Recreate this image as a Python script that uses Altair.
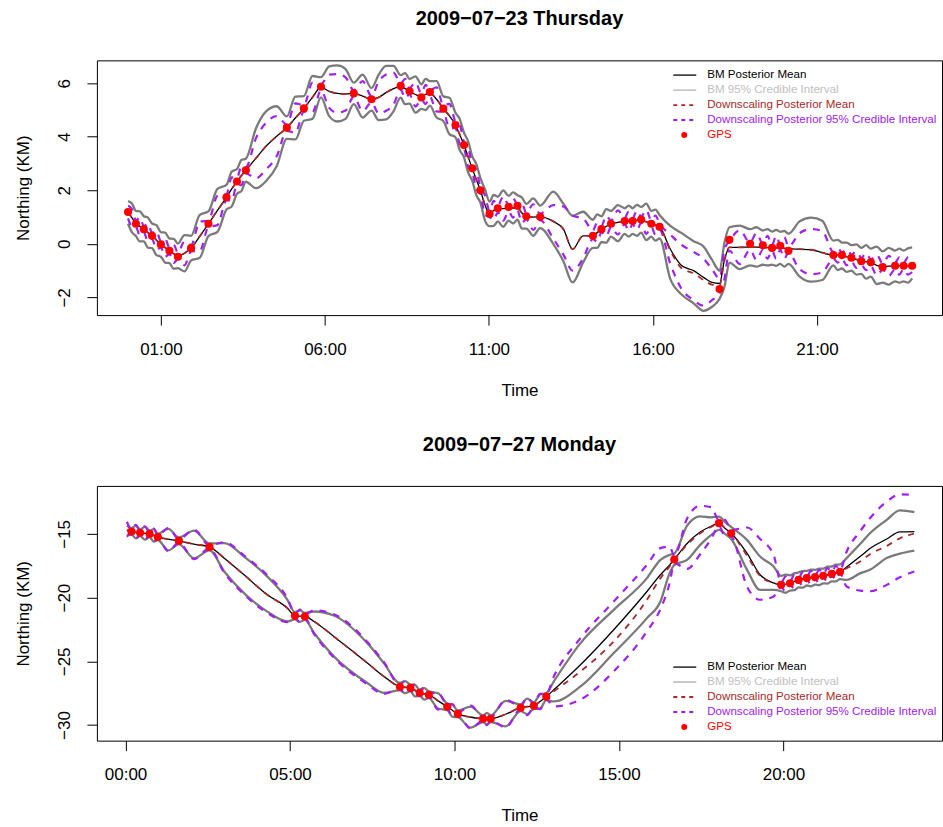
import altair as alt
import pandas as pd

FONT = "Liberation Sans"

# ---------------- Panel 1: 2009-07-23 Thursday ----------------
t1 = [0.00, 0.12, 0.24, 0.36, 0.48, 0.605, 0.73, 0.865, 1.00, 1.13,
      1.26, 1.39, 1.52, 1.72, 1.92, 2.185, 2.45, 2.725, 3.00, 3.16,
      3.32, 3.455, 3.59, 3.90, 4.215, 4.53, 4.84, 5.10, 5.36, 5.62,
      5.88, 6.13, 6.38, 6.63, 6.88, 7.15, 7.42, 7.64, 7.865, 8.09,
      8.31, 8.445, 8.58, 8.76, 8.94, 9.07, 9.20, 9.405, 9.61, 9.795,
      9.98, 10.11, 10.24, 10.365, 10.49, 10.615, 10.74, 10.88, 11.02, 11.145,
      11.27, 11.435, 11.60, 11.735, 11.87, 12.005, 12.14, 12.35, 12.56, 12.96,
      13.27, 13.55, 13.87, 14.17, 14.30, 14.43, 14.575, 14.72, 14.93, 15.14,
      15.26, 15.38, 15.51, 15.64, 15.795, 15.95, 16.075, 16.20, 16.53, 16.88,
      17.24, 17.54, 17.80, 18.03, 18.18, 18.33, 18.645, 18.96, 19.155, 19.35,
      19.49, 19.63, 19.755, 19.88, 20.005, 20.13, 20.47, 20.82, 21.16, 21.50,
      21.63, 21.76, 21.905, 22.05, 22.20, 22.35, 22.495, 22.64, 22.82, 23.00,
      23.19, 23.38, 23.51, 23.64, 23.77, 23.90]
bm_mean1 = [1.19, 0.97, 0.75, 0.65, 0.55, 0.42, 0.30, 0.14, -0.02, -0.14,
            -0.26, -0.37, -0.45, -0.35, -0.16, 0.28, 0.75, 1.25, 1.74, 2.05,
            2.33, 2.55, 2.75, 3.20, 3.66, 4.02, 4.34, 4.70, 5.06, 5.47,
            5.85, 5.70, 5.62, 5.60, 5.62, 5.52, 5.40, 5.47, 5.65, 5.80,
            5.88, 5.80, 5.70, 5.58, 5.50, 5.58, 5.62, 5.40, 5.05, 4.78,
            4.44, 4.08, 3.69, 3.25, 2.82, 2.40, 2.00, 1.45, 1.12, 1.25,
            1.30, 1.32, 1.33, 1.34, 1.36, 1.15, 1.03, 1.00, 1.01, 0.84,
            0.55, -0.20, 0.30, 0.30, 0.42, 0.55, 0.65, 0.75, 0.80, 0.85,
            0.85, 0.85, 0.88, 0.90, 0.82, 0.75, 0.70, 0.64, -0.20, -0.82,
            -1.00, -1.25, -1.44, -1.48, -0.60, -0.13, -0.13, -0.12, -0.12, -0.13,
            -0.14, -0.15, -0.15, -0.15, -0.16, -0.18, -0.20, -0.22, -0.33, -0.42,
            -0.42, -0.45, -0.48, -0.52, -0.58, -0.65, -0.67, -0.70, -0.80, -0.85,
            -0.83, -0.82, -0.82, -0.82, -0.82, -0.82]
bm_lo1 = [0.75, 0.43, 0.29, 0.09, 0.09, -0.14, -0.16, -0.42, -0.48, -0.70,
          -0.72, -0.93, -0.91, -1.03, -0.62, -0.52, 0.29, 0.45, 1.28, 1.40,
          1.87, 1.97, 2.32, 2.08, 2.36, 2.90, 3.92, 3.90, 4.60, 4.67,
          5.47, 4.77, 4.57, 4.67, 5.22, 4.72, 4.98, 4.62, 4.65, 4.95,
          5.46, 5.22, 5.24, 4.90, 5.04, 5.00, 5.16, 4.72, 4.59, 4.10,
          3.98, 3.50, 3.23, 2.67, 2.36, 1.82, 1.54, 0.87, 0.66, 0.67,
          0.84, 0.64, 0.87, 0.76, 0.90, 0.57, 0.57, 0.30, 0.59, 0.00,
          -0.65, -1.44, -0.70, -0.15, -0.15, 0.07, 0.05, 0.27, 0.10, 0.37,
          0.27, 0.37, 0.30, 0.42, 0.14, 0.27, 0.12, 0.20, -1.32, -1.90,
          -2.22, -2.50, -2.35, -2.05, -1.60, -0.70, -0.94, -0.80, -0.85, -0.78,
          -0.80, -0.78, -0.82, -0.75, -0.85, -0.75, -1.22, -1.41, -1.35, -0.80,
          -0.98, -0.92, -1.05, -1.00, -1.15, -1.12, -1.30, -1.22, -1.50, -1.45,
          -1.52, -1.40, -1.45, -1.40, -1.45, -1.29]
bm_hi1 = [1.60, 1.51, 1.23, 1.21, 1.03, 0.98, 0.76, 0.70, 0.44, 0.42,
          0.20, 0.19, 0.01, 0.33, 0.30, 1.08, 1.21, 2.05, 2.20, 2.70,
          2.79, 3.13, 3.18, 4.32, 4.96, 5.14, 4.76, 5.50, 5.52, 6.27,
          6.23, 6.63, 6.67, 6.53, 6.02, 6.32, 5.82, 6.32, 6.65, 6.65,
          6.30, 6.38, 6.16, 6.26, 5.96, 6.16, 6.08, 6.08, 5.51, 5.46,
          4.90, 4.66, 4.15, 3.83, 3.28, 2.98, 2.46, 2.03, 1.58, 1.83,
          1.76, 2.00, 1.79, 1.92, 1.82, 1.73, 1.49, 1.70, 1.43, 1.95,
          1.50, 1.05, 1.20, 0.90, 1.10, 1.03, 1.30, 1.23, 1.45, 1.33,
          1.43, 1.33, 1.46, 1.38, 1.50, 1.23, 1.28, 1.08, 0.67, 0.40,
          0.10, -0.10, -0.60, -1.00, 0.05, 0.62, 0.68, 0.55, 0.62, 0.50,
          0.55, 0.46, 0.52, 0.45, 0.48, 0.38, 0.84, 0.98, 0.86, 0.12,
          0.15, 0.05, 0.05, -0.05, -0.02, -0.15, -0.05, -0.18, -0.10, -0.28,
          -0.15, -0.25, -0.18, -0.25, -0.17, -0.13]
ds_mean1 = [1.19, 0.97, 0.75, 0.65, 0.55, 0.42, 0.30, 0.14, -0.02, -0.14,
            -0.26, -0.37, -0.45, -0.35, -0.16, 0.28, 0.75, 1.25, 1.74, 2.05,
            2.33, 2.55, 2.75, 3.20, 3.66, 4.02, 4.34, 4.70, 5.06, 5.47,
            5.85, 5.70, 5.62, 5.60, 5.62, 5.52, 5.40, 5.47, 5.65, 5.80,
            5.88, 5.80, 5.70, 5.58, 5.50, 5.58, 5.62, 5.40, 5.05, 4.78,
            4.44, 4.08, 3.69, 3.25, 2.82, 2.40, 2.00, 1.45, 1.12, 1.25,
            1.30, 1.32, 1.33, 1.34, 1.36, 1.15, 1.03, 1.00, 1.01, 0.84,
            0.55, -0.20, 0.30, 0.30, 0.42, 0.55, 0.65, 0.75, 0.80, 0.85,
            0.85, 0.85, 0.88, 0.90, 0.82, 0.75, 0.70, 0.64, -0.25, -0.92,
            -1.10, -1.35, -1.52, -1.55, -0.62, -0.13, -0.13, -0.12, -0.12, -0.13,
            -0.14, -0.15, -0.15, -0.15, -0.16, -0.18, -0.20, -0.22, -0.33, -0.42,
            -0.42, -0.45, -0.48, -0.52, -0.58, -0.65, -0.67, -0.70, -0.80, -0.85,
            -0.83, -0.82, -0.82, -0.82, -0.82, -0.82]
ds_lo1 = [0.95, 0.64, 0.63, 0.31, 0.43, 0.08, 0.18, -0.20, -0.14, -0.48,
          -0.38, -0.71, -0.57, -0.80, -0.28, -0.27, 0.63, 0.70, 1.62, 1.62,
          2.21, 2.19, 2.63, 2.45, 2.79, 3.27, 4.22, 4.15, 4.94, 4.92,
          5.73, 5.08, 4.90, 4.98, 5.50, 4.96, 5.28, 4.87, 4.97, 5.20,
          5.76, 5.44, 5.58, 5.13, 5.38, 5.22, 5.50, 4.95, 4.93, 4.33,
          4.32, 3.72, 3.57, 2.89, 2.70, 2.04, 1.88, 1.09, 1.00, 0.89,
          1.18, 0.87, 1.21, 0.98, 1.24, 0.79, 0.91, 0.52, 0.89, 0.20,
          -0.40, -1.00, -0.55, 0.18, 0.08, 0.43, 0.28, 0.63, 0.35, 0.73,
          0.49, 0.73, 0.52, 0.78, 0.37, 0.63, 0.34, 0.52, -0.75, -1.70,
          -2.10, -2.31, -2.10, -1.85, -1.30, -0.25, -0.75, -0.22, -0.60, -0.22,
          -0.55, -0.25, -0.55, -0.22, -0.55, -0.32, -0.95, -1.13, -1.07, -0.55,
          -0.70, -0.55, -0.80, -0.65, -0.90, -0.78, -0.98, -0.82, -1.18, -0.97,
          -1.20, -0.94, -1.15, -0.94, -1.15, -1.05]
ds_hi1 = [1.42, 1.30, 0.87, 0.99, 0.67, 0.76, 0.42, 0.48, 0.10, 0.20,
          -0.14, -0.03, -0.33, 0.10, -0.04, 0.83, 0.87, 1.80, 1.86, 2.48,
          2.45, 2.91, 2.87, 3.95, 4.53, 4.77, 4.46, 5.25, 5.18, 6.02,
          5.97, 6.32, 6.34, 6.22, 5.74, 6.08, 5.52, 6.07, 6.33, 6.40,
          6.00, 6.16, 5.82, 6.03, 5.62, 5.94, 5.74, 5.85, 5.17, 5.23,
          4.56, 4.44, 3.81, 3.61, 2.94, 2.76, 2.12, 1.81, 1.24, 1.61,
          1.42, 1.77, 1.45, 1.70, 1.48, 1.51, 1.15, 1.48, 1.13, 1.45,
          1.40, 1.05, 0.95, 0.50, 0.80, 0.67, 1.05, 0.87, 1.25, 0.97,
          1.21, 0.97, 1.24, 1.02, 1.27, 0.87, 1.06, 0.76, 0.35, -0.05,
          -0.30, -0.55, -0.95, -1.30, -0.20, 0.10, 0.50, 0.05, 0.40, 0.00,
          0.30, -0.05, 0.30, -0.02, 0.25, -0.10, 0.40, 0.55, 0.48, -0.30,
          -0.15, -0.32, -0.20, -0.40, -0.28, -0.52, -0.35, -0.58, -0.40, -0.73,
          -0.45, -0.70, -0.50, -0.70, -0.50, -0.48]
gps_t1 = [0.00, 0.24, 0.48, 0.73, 1.00, 1.26, 1.52, 1.92, 2.45, 3.00,
          3.32, 3.59, 4.84, 5.36, 5.88, 6.88, 7.42, 8.31, 8.58, 8.94,
          9.20, 9.61, 9.98, 10.24, 10.49, 10.74, 11.02, 11.27, 11.60, 11.87,
          12.14, 12.56, 14.17, 14.43, 14.72, 15.14, 15.38, 15.64, 15.95, 16.20,
          18.03, 18.33, 18.96, 19.35, 19.63, 19.88, 20.13, 21.50, 21.76, 22.05,
          22.35, 22.64, 23.00, 23.38, 23.64, 23.90]
gps_y1 = [1.19, 0.75, 0.55, 0.30, -0.02, -0.26, -0.48, -0.16, 0.75, 1.74,
          2.33, 2.75, 4.34, 5.06, 5.87, 5.62, 5.40, 5.90, 5.70, 5.47,
          5.67, 5.05, 4.44, 3.69, 2.82, 2.00, 1.12, 1.33, 1.38, 1.42,
          1.03, 1.01, 0.30, 0.55, 0.75, 0.85, 0.85, 0.91, 0.75, 0.64,
          -1.69, 0.15, 0.00, -0.05, -0.15, -0.07, -0.26, -0.42, -0.42, -0.52,
          -0.65, -0.69, -0.87, -0.82, -0.82, -0.82]

# ---------------- Panel 2: 2009-07-27 Monday ----------------
t2 = [0.04, 0.18, 0.31, 0.44, 0.585, 0.73, 0.855, 0.98, 1.30, 1.62,
      2.08, 2.55, 3.00, 3.60, 4.31, 4.92, 5.15, 5.30, 5.45, 5.73,
      6.33, 7.35, 7.85, 8.34, 8.50, 8.66, 8.80, 8.94, 9.08, 9.22,
      9.50, 9.78, 9.94, 10.10, 10.49, 10.87, 10.985, 11.10, 11.555, 12.01,
      12.21, 12.41, 12.60, 12.79, 13.02, 13.83, 14.84, 15.85, 16.26, 16.54,
      16.68, 17.07, 17.47, 17.80, 18.04, 18.22, 18.41, 18.89, 19.29, 19.70,
      19.93, 20.065, 20.20, 20.33, 20.46, 20.585, 20.71, 20.835, 20.96, 21.085,
      21.21, 21.34, 21.47, 21.595, 21.72, 21.92, 22.33, 22.63, 23.14, 23.54,
      23.98]
bm_mean2 = [-14.70, -14.82, -14.87, -14.92, -14.96, -15.00, -15.12, -15.24, -15.42, -15.55,
            -15.81, -16.02, -16.91, -18.21, -19.78, -20.83, -21.43, -21.45, -21.48, -21.87,
            -23.05, -25.13, -26.18, -26.99, -27.04, -27.08, -27.28, -27.47, -27.55, -27.62,
            -28.10, -28.57, -28.85, -29.12, -29.37, -29.50, -29.50, -29.50, -29.15, -28.64,
            -28.55, -28.48, -28.15, -27.77, -27.23, -25.27, -22.52, -19.52, -18.21, -17.43,
            -17.01, -15.75, -14.85, -14.40, -14.16, -14.55, -14.95, -16.51, -18.21, -18.85,
            -19.00, -18.95, -18.87, -18.74, -18.61, -18.54, -18.47, -18.43, -18.39, -18.34,
            -18.29, -18.21, -18.13, -18.05, -17.98, -17.60, -16.78, -16.15, -15.40, -14.85,
            -14.82]
bm_lo2 = [-15.10, -15.05, -15.35, -15.15, -15.45, -15.25, -15.60, -15.48, -16.30, -15.80,
          -16.91, -16.30, -17.95, -19.65, -21.10, -21.87, -21.70, -21.90, -21.75, -22.78,
          -24.61, -26.70, -27.48, -27.28, -27.50, -27.35, -27.75, -27.72, -28.00, -27.88,
          -28.70, -28.83, -29.35, -29.38, -30.20, -29.76, -29.95, -29.76, -30.10, -28.90,
          -29.15, -28.74, -28.70, -28.05, -28.14, -26.97, -24.35, -21.61, -20.30, -18.08,
          -17.45, -17.04, -15.86, -15.10, -14.69, -15.00, -15.40, -17.80, -19.40, -19.40,
          -19.50, -19.62, -19.45, -19.42, -19.20, -19.22, -19.05, -19.12, -18.98, -19.02,
          -18.88, -18.90, -18.72, -18.72, -18.55, -18.61, -18.10, -17.82, -16.90, -16.55,
          -16.31]
bm_hi2 = [-14.35, -14.55, -14.35, -14.65, -14.45, -14.75, -14.62, -14.98, -14.60, -15.28,
          -14.74, -15.75, -15.73, -16.78, -18.35, -20.17, -21.15, -21.00, -21.20, -21.09,
          -21.40, -23.57, -25.13, -26.70, -26.55, -26.82, -26.85, -27.22, -27.10, -27.36,
          -27.50, -28.31, -28.40, -28.86, -28.55, -29.24, -29.05, -29.24, -28.10, -28.38,
          -27.92, -28.22, -27.60, -27.50, -26.57, -23.57, -20.96, -18.47, -17.04, -16.65,
          -16.55, -14.35, -13.62, -13.70, -13.64, -14.05, -14.45, -15.47, -16.78, -17.56,
          -18.30, -18.20, -18.25, -18.10, -18.02, -17.92, -17.90, -17.80, -17.82, -17.72,
          -17.72, -17.58, -17.56, -17.42, -17.40, -16.90, -15.80, -14.95, -13.90, -13.15,
          -13.30]
ds_mean2 = [-14.70, -14.82, -14.87, -14.92, -14.96, -15.00, -15.12, -15.24, -15.42, -15.55,
            -15.81, -16.02, -16.91, -18.21, -19.78, -20.83, -21.43, -21.45, -21.48, -21.87,
            -23.05, -25.13, -26.18, -26.99, -27.04, -27.08, -27.28, -27.47, -27.55, -27.62,
            -28.10, -28.57, -28.85, -29.12, -29.37, -29.50, -29.50, -29.50, -29.15, -28.64,
            -28.55, -28.48, -28.15, -27.77, -27.35, -25.79, -23.44, -20.17, -18.47, -17.55,
            -17.05, -15.85, -14.95, -14.45, -14.18, -14.55, -14.95, -16.70, -18.30, -18.85,
            -19.00, -18.95, -18.87, -18.74, -18.61, -18.54, -18.47, -18.43, -18.39, -18.34,
            -18.29, -18.21, -18.13, -18.05, -17.98, -17.70, -17.17, -16.60, -15.95, -15.35,
            -14.98]
ds_lo2 = [-15.22, -14.95, -15.38, -15.05, -15.48, -15.12, -15.63, -15.36, -16.38, -15.68,
          -16.98, -16.15, -18.05, -19.75, -21.20, -21.92, -21.60, -21.95, -21.65, -22.85,
          -24.70, -26.80, -27.55, -27.15, -27.55, -27.20, -27.80, -27.60, -28.05, -27.75,
          -28.78, -28.70, -29.40, -29.25, -30.28, -29.63, -30.00, -29.63, -30.18, -28.77,
          -29.22, -28.61, -28.75, -28.00, -28.53, -28.00, -25.79, -22.65, -20.90, -18.87,
          -17.30, -17.75, -16.60, -15.40, -14.40, -15.15, -15.20, -19.13, -20.17, -19.91,
          -19.20, -19.50, -19.00, -19.30, -18.74, -19.10, -18.60, -19.00, -18.52, -18.90,
          -18.42, -18.78, -18.26, -18.60, -18.11, -19.13, -19.45, -19.50, -19.00, -18.40,
          -17.95]
ds_hi2 = [-14.05, -14.65, -14.30, -14.75, -14.40, -14.85, -14.58, -15.10, -14.55, -15.40,
          -14.68, -15.90, -15.65, -16.70, -18.25, -20.05, -21.25, -20.95, -21.30, -21.00,
          -21.30, -23.48, -25.05, -26.85, -26.50, -26.95, -26.80, -27.35, -27.05, -27.50,
          -27.45, -28.44, -28.35, -28.99, -28.48, -29.37, -29.00, -29.37, -28.02, -28.51,
          -27.85, -28.35, -27.55, -27.55, -26.18, -23.18, -20.30, -17.43, -16.12, -16.00,
          -16.72, -13.80, -12.80, -12.90, -13.92, -13.90, -14.70, -14.50, -15.40, -16.65,
          -18.80, -18.35, -18.74, -18.20, -18.48, -18.00, -18.34, -17.90, -18.26, -17.82,
          -18.16, -17.68, -18.00, -17.50, -17.85, -16.40, -14.80, -13.77, -12.47, -11.90,
          -11.95]
gps_t2 = [0.18, 0.44, 0.73, 0.98, 1.62, 2.55, 5.15, 5.45, 8.34, 8.66,
          8.94, 9.22, 9.78, 10.10, 10.87, 11.10, 12.01, 12.41, 12.79, 16.68,
          18.04, 18.41, 19.93, 20.20, 20.46, 20.71, 20.96, 21.21, 21.47, 21.72]
gps_y2 = [-14.82, -14.92, -15.00, -15.24, -15.55, -16.02, -21.43, -21.48, -26.99, -27.08,
          -27.47, -27.62, -28.57, -29.12, -29.50, -29.50, -28.64, -28.48, -27.77, -17.01,
          -14.16, -14.95, -19.00, -18.87, -18.61, -18.47, -18.39, -18.29, -18.13, -17.98]

# ---------------- Legend ----------------
legend_labels = ["BM Posterior Mean", "BM 95% Credible Interval",
                 "Downscaling Posterior Mean",
                 "Downscaling Posterior 95% Credible Interval", "GPS"]
legend_text_colors = ["#000000", "#C0C0C0", "#A52A2A", "#A020F0", "#FF0000"]
legend_line_colors = ["#444444", "#C8C8C8", "#A52A2A", "#A020F0", "#FF0000"]

W, H = 846, 255
GREY = "#7A7A7A"


def panel(title, t, m, lo, hi, dm, dlo, dhi, gt, gy, xdom, ydom, xticks, yticks, leg_top):
    df = pd.DataFrame(dict(t=t, bm_mean=m, bm_lo=lo, bm_hi=hi,
                           ds_mean=dm, ds_lo=dlo, ds_hi=dhi))
    gps = pd.DataFrame(dict(t=gt, y=gy))
    xs = alt.Scale(domain=xdom, nice=False, zero=False)
    ys = alt.Scale(domain=ydom, nice=False, zero=False)
    xax = alt.Axis(values=xticks, grid=False, domain=False, tickSize=10,
                   tickColor="black", tickWidth=1,
                   labelExpr="(datum.value < 10 ? '0' : '') + datum.value + ':00'",
                   labelFont=FONT, labelFontSize=17, labelColor="black",
                   labelPadding=16, title="Time", titleFont=FONT,
                   titleFontSize=17, titleFontWeight="normal", titleColor="black",
                   titleY=80, titleBaseline="alphabetic")
    yax = alt.Axis(values=yticks, grid=False, domain=False, tickSize=10,
                   tickColor="black", tickWidth=1, labelAngle=270,
                   labelAlign="center", labelBaseline="bottom",
                   labelFont=FONT, labelFontSize=17, labelColor="black",
                   labelPadding=13, title="Northing (KM)", titleFont=FONT,
                   titleFontSize=17, titleFontWeight="normal", titleColor="black",
                   titleAngle=270, titleX=-68, titleY=H / 2,
                   titleAlign="center", titleBaseline="alphabetic")
    base = alt.Chart(df)

    def line(col, color, width, dash=None):
        kw = dict(color=color, strokeWidth=width, interpolate="monotone", clip=True)
        if dash:
            kw["strokeDash"] = dash
        return base.mark_line(**kw).encode(
            x=alt.X("t:Q", scale=xs, axis=xax),
            y=alt.Y(f"{col}:Q", scale=ys, axis=yax))

    pts = alt.Chart(gps).mark_circle(size=66, color="#FF0000", opacity=1).encode(
        x=alt.X("t:Q", scale=xs, axis=xax), y=alt.Y("y:Q", scale=ys, axis=yax))

    main = alt.layer(
        line("bm_lo", GREY, 2.3), line("bm_hi", GREY, 2.3),
        line("ds_lo", "#A020F0", 2.2, [7, 7]), line("ds_hi", "#A020F0", 2.2, [7, 7]),
        line("bm_mean", "black", 1.3),
        line("ds_mean", "#A52A2A", 1.8, [6, 6]),
        pts)

    leg = pd.DataFrame(dict(label=legend_labels, row=list(range(5))))
    lys = alt.Scale(domain=[0, 4], range=[leg_top, leg_top + 60])
    lcol = alt.Color("label:N", scale=alt.Scale(domain=legend_labels, range=legend_line_colors), legend=None)
    tcol = alt.Color("label:N", scale=alt.Scale(domain=legend_labels, range=legend_text_colors), legend=None)
    lb = alt.Chart(leg)
    leg_text = lb.mark_text(align="left", baseline="middle", font=FONT, fontSize=11.6).encode(
        x=alt.value(611), y=alt.Y("row:Q", scale=lys, axis=None), text="label:N", color=tcol)
    leg_lines = lb.transform_filter("datum.row < 4").mark_rule(strokeWidth=1.8).encode(
        x=alt.value(577), x2=alt.value(600), y=alt.Y("row:Q", scale=lys, axis=None),
        color=lcol,
        strokeDash=alt.StrokeDash("label:N", scale=alt.Scale(
            domain=legend_labels[:4], range=[[1, 0], [1, 0], [4, 4], [4, 4]]), legend=None))
    leg_pt = lb.transform_filter("datum.row == 4").mark_circle(size=36, color="#FF0000", opacity=1).encode(
        x=alt.value(588), y=alt.Y("row:Q", scale=lys, axis=None))
    legend = alt.layer(leg_lines, leg_text, leg_pt).resolve_scale(color="independent")

    return alt.layer(main, legend).resolve_scale(y="independent").properties(
        width=W, height=H,
        title=alt.TitleParams(title, font=FONT, fontSize=20, fontWeight="bold",
                              anchor="middle", baseline="alphabetic", offset=15,
                              color="black"))


p1 = panel("2009\u221207\u221223 Thursday", t1, bm_mean1, bm_lo1, bm_hi1,
           ds_mean1, ds_lo1, ds_hi1, gps_t1, gps_y1,
           [-0.95, 24.81], [-2.661, 6.854], [1, 6, 11, 16, 21], [-2, 0, 2, 4, 6], 14.7)
p2 = panel("2009\u221207\u221227 Monday", t2, bm_mean2, bm_lo2, bm_hi2,
           ds_mean2, ds_lo2, ds_hi2, gps_t2, gps_y2,
           [-0.872, 24.82], [-31.222, -11.238], [0, 5, 10, 15, 20], [-30, -25, -20, -15], 181.3)

chart = alt.vconcat(p1, p2, spacing=35).properties(
    padding={"left": 14, "top": 8, "right": 0, "bottom": 0},
    background="white",
).configure_view(stroke="black", strokeWidth=1)

chart.save("out.html", embed_options={"renderer": "svg", "actions": False})
